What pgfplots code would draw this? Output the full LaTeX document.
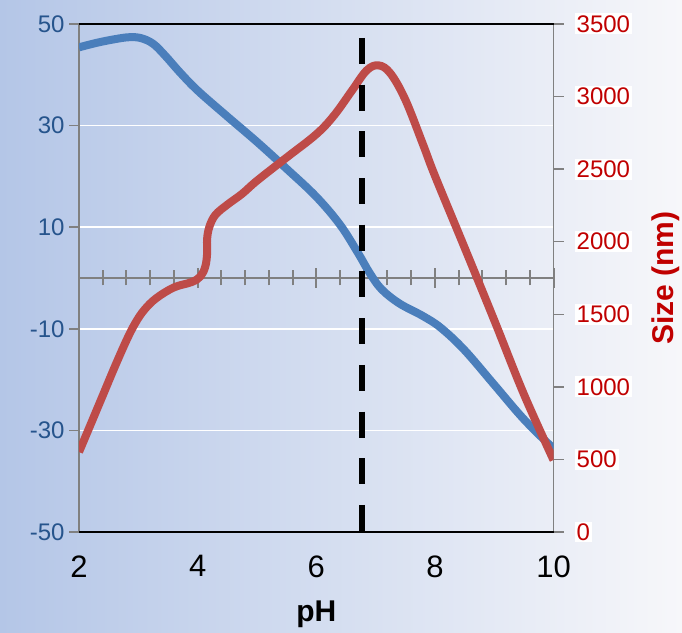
\documentclass[border=0pt]{standalone}
\usepackage{fontspec}
\setmainfont{Liberation Sans}
\usepackage{pgfplots}
\pgfplotsset{compat=1.18}

\definecolor{zetablue}{RGB}{74,126,187}
\definecolor{sizered}{RGB}{190,75,72}
\definecolor{lefttick}{RGB}{38,84,140}
\definecolor{righttick}{RGB}{192,0,0}
\definecolor{axisgrey}{RGB}{128,128,128}
\definecolor{bgleft}{RGB}{180,198,231}
\definecolor{bgright}{RGB}{247,247,250}

% zeta potential (mV) against pH
\pgfplotstableread{
pH   zeta
2.0  45.4
2.3  46.3
2.6  47.0
2.85 47.4
3.05 47.2
3.25 46.1
3.45 43.8
3.7  40.5
4.0  36.9
4.5  31.8
5.0  26.8
5.5  21.5
6.0  16.0
6.4  10.5
6.7  5.0
6.9  1.0
7.1  -2.2
7.4  -5.0
7.8  -7.5
8.1  -9.8
8.5  -14.2
9.0  -21.0
9.5  -27.8
10.0 -33.6
}\zetadata

% particle size (nm) against pH
\pgfplotstableread{
pH   size
2.0  551
2.2  745
2.4  940
2.6  1135
2.8  1320
2.95 1440
3.1  1530
3.3  1610
3.6  1685
3.9  1722
4.05 1762
4.13 1830
4.16 1920
4.16 2020
4.2  2105
4.3  2185
4.5  2255
4.75 2330
5.0  2420
5.5  2580
6.0  2740
6.3  2870
6.6  3040
6.85 3180
7.05 3215
7.25 3160
7.5  2980
7.8  2670
8.0  2455
8.5  1960
9.0  1460
9.5  950
10.0 496
}\sizedata

\pgfplotsset{
  panel/.style={
    scale only axis, width=474.5bp, height=508bp,
    at={(79bp,101bp)}, anchor=south west,
    xmin=2, xmax=10,
    clip mode=individual,
    /pgf/number format/assume math mode=true,
    /pgf/number format/1000 sep={},
  },
}

\begin{document}
\begin{tikzpicture}[x=1bp,y=1bp]
\useasboundingbox (0,0) rectangle (682,633);
\shade[left color=bgleft, right color=bgright] (0,0) rectangle (682,633);

% pH axis through zeta = 0
\begin{axis}[panel, ymin=-50, ymax=50,
  axis x line=middle, axis y line=none,
  x axis line style={-, axisgrey, line width=1.5bp},
  xtick={2,4,...,10}, minor x tick num=4, xticklabels={},
  tick align=center,
  major tick length=20bp, minor tick length=15bp,
  every tick/.style={axisgrey, line width=2bp},
]
\end{axis}

% zeta potential, left axis
\begin{axis}[panel, ymin=-50, ymax=50,
  ytick={-50,-30,...,50}, xtick={2,4,...,10},
  axis line style={draw=none},
  xtick pos=left, ytick pos=left,
  tick style={draw=none},
  ymajorgrids, grid style={white, line width=1.5bp},
  yticklabel style={font=\fontsize{24bp}{28bp}\selectfont, text=lefttick, xshift=-11bp},
  xticklabel style={font=\fontsize{31bp}{34bp}\selectfont, yshift=-20bp},
  xlabel={pH},
  every axis x label/.style={at={(rel axis cs:0.5,0)}, yshift=-82bp, anchor=center,
    font=\bfseries\fontsize{30bp}{32bp}\selectfont},
]
\pgfplotsinvokeforeach{-50,-30,-10,10,30,50}{
  \draw[axisgrey, line width=1.5bp] (axis cs:2,#1) -- ([xshift=-10bp]axis cs:2,#1);
}
\draw[axisgrey, line width=1.5bp] (rel axis cs:0,0) -- (rel axis cs:0,1);
\draw[axisgrey, line width=1.5bp] (rel axis cs:1,0) -- (rel axis cs:1,1);
\draw[black, line width=2bp] (rel axis cs:0,1) -- (rel axis cs:1,1);
\draw[black, line width=2bp] (rel axis cs:0,0) -- (rel axis cs:1,0);
\addplot[zetablue, line width=8bp, smooth, tension=0.6] table[x=pH, y=zeta] {\zetadata};
\end{axis}

% particle size, right axis
\begin{axis}[panel, ymin=0, ymax=3500,
  ytick={0,500,...,3500}, xtick=\empty,
  axis line style={draw=none},
  ytick pos=right, yticklabel pos=right,
  tick style={draw=none},
  yticklabel style={font=\fontsize{24bp}{28bp}\selectfont, text=righttick,
    fill=white, inner sep=2bp, xshift=21bp},
  ylabel={Size (nm)},
  every axis y label/.style={at={(rel axis cs:1,0.5)}, xshift=112bp, rotate=90,
    anchor=center, text=righttick, font=\bfseries\fontsize{30bp}{32bp}\selectfont},
]
\pgfplotsinvokeforeach{0,500,1000,1500,2000,2500,3000,3500}{
  \draw[axisgrey, line width=1.5bp] (axis cs:10,#1) -- ([xshift=10bp]axis cs:10,#1);
}
\addplot[sizered, line width=8bp, smooth, tension=0.6] table[x=pH, y=size] {\sizedata};
\draw[black, line width=6bp, dash pattern=on 26bp off 20.7bp]
  (axis cs:6.77,3404) -- (axis cs:6.77,0);
\end{axis}
\end{tikzpicture}
\end{document}
